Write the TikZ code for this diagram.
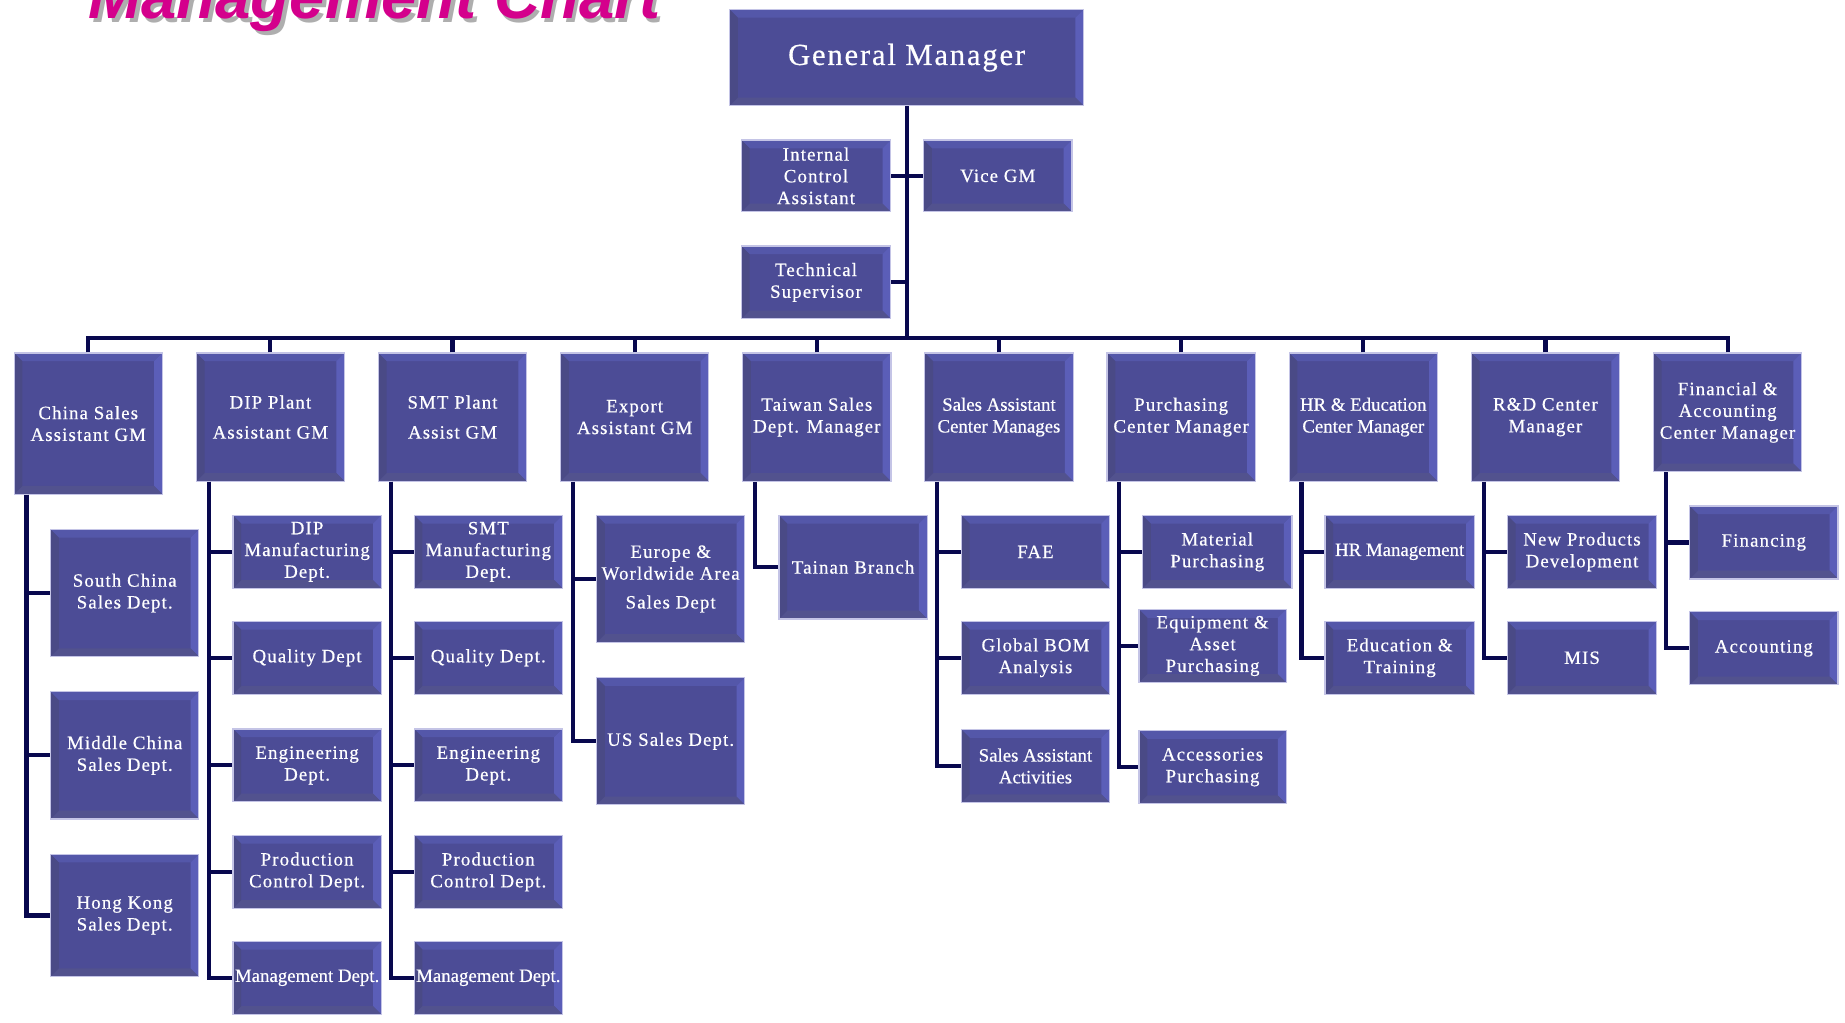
\documentclass[tikz,border=0pt]{standalone}
\usepackage{fontspec}
\setmainfont{Liberation Serif}[LetterSpace=6, FakeBold=0.5]
\newfontfamily\tightfont{Liberation Serif}[LetterSpace=0, FakeBold=0.5]
\newfontfamily\titlefont{Liberation Sans}
\definecolor{face}{HTML}{4C4C96}
\definecolor{bevtop}{HTML}{5457A9}
\definecolor{bevright}{HTML}{5B5EB8}
\definecolor{bevbot}{HTML}{52528E}
\definecolor{bevleft}{HTML}{4A4A86}
\definecolor{glow}{HTML}{C4C4E6}
\definecolor{linec}{HTML}{08084E}
\definecolor{titlemag}{HTML}{D4008C}
\tikzset{
  bx/.style={rectangle, fill=face, draw=glow, line width=1pt, text=white, align=center,
    inner sep=0pt, minimum width=126pt, minimum height=62pt,
    font=\fontsize{16}{18.5}\selectfont,
    path picture={
      \fill[bevtop] (path picture bounding box.north west) -- (path picture bounding box.north east)
        -- ([shift={(-7pt,-7pt)}]path picture bounding box.north east)
        -- ([shift={(7pt,-7pt)}]path picture bounding box.north west) -- cycle;
      \fill[bevright] (path picture bounding box.north east) -- (path picture bounding box.south east)
        -- ([shift={(-7pt,7pt)}]path picture bounding box.south east)
        -- ([shift={(-7pt,-7pt)}]path picture bounding box.north east) -- cycle;
      \fill[bevbot] (path picture bounding box.south east) -- (path picture bounding box.south west)
        -- ([shift={(7pt,7pt)}]path picture bounding box.south west)
        -- ([shift={(-7pt,7pt)}]path picture bounding box.south east) -- cycle;
      \fill[bevleft] (path picture bounding box.south west) -- (path picture bounding box.north west)
        -- ([shift={(7pt,-7pt)}]path picture bounding box.north west)
        -- ([shift={(7pt,7pt)}]path picture bounding box.south west) -- cycle;
    }},
  tight/.style={font=\tightfont\fontsize{16}{18.5}\selectfont},
  conn/.style={draw=linec, line width=3.5pt, line join=miter},
  kid/.style={conn},
}
\begin{document}
\begin{tikzpicture}[x=1pt,y=-1pt]
\useasboundingbox (0,0) rectangle (1568,869);
\fill[white] (0,0) rectangle (1568,869);
\begin{scope}
\clip (0,0) rectangle (1568,869);
\node[anchor=base west, inner sep=0pt, font=\titlefont\bfseries\itshape\fontsize{54}{54}\selectfont, text=black!45, opacity=0.7] (titleshadow) at (78,19) {Management Chart};
\node[anchor=base west, inner sep=0pt, font=\titlefont\bfseries\itshape\fontsize{54}{54}\selectfont, text=titlemag] (title) at (75,16) {Management Chart};
\end{scope}

% top
\node[bx, minimum width=301pt, minimum height=82pt, font=\fontsize{26}{30}\selectfont] (gm) at (770.5,49) {General Manager};
\node[bx, minimum width=127pt, minimum height=61pt] (ica) at (693.5,149.5) {Internal\\Control\\Assistant};
\node[bx, minimum width=126pt, minimum height=61pt] (vgm) at (848,149.5) {Vice GM};
\node[bx, minimum width=127pt, minimum height=62pt] (tech) at (693.5,240) {Technical\\Supervisor};

% level 2
\node[bx, minimum height=120pt] (l1) at (75,360) {China Sales\\Assistant GM};
\node[bx, minimum height=109pt] (l2) at (229.8,354.5) {DIP Plant\\[7pt]Assistant GM};
\node[bx, minimum height=109pt] (l3) at (384.6,354.5) {SMT Plant\\[7pt]Assist GM};
\node[bx, minimum height=109pt] (l4) at (539.4,354.5) {Export\\Assistant GM};
\node[bx, minimum height=109pt] (l5) at (694.2,354.5) {Taiwan Sales\\Dept. Manager};
\node[bx, minimum height=109pt, tight] (l6) at (849,354.5) {Sales Assistant\\Center Manages};
\node[bx, minimum height=109pt] (l7) at (1003.8,354.5) {Purchasing\\Center Manager};
\node[bx, minimum height=109pt, tight] (l8) at (1158.6,354.5) {HR \& Education\\Center Manager};
\node[bx, minimum height=109pt] (l9) at (1313.4,354.5) {R\&D Center\\Manager};
\node[bx, minimum height=101pt] (l10) at (1468.2,350.5) {Financial \&\\Accounting\\Center Manager};

% China sales children
\node[bx, minimum height=108pt] (c1) at (106,504) {South China\\Sales Dept.};
\node[bx, minimum height=108pt] (c2) at (106,642) {Middle China\\Sales Dept.};
\node[bx, minimum height=104pt] (c3) at (106,778) {Hong Kong\\Sales Dept.};

% DIP children
\node[bx] (d1) at (261,469) {DIP\\Manufacturing\\Dept.};
\node[bx] (d2) at (261,559) {Quality Dept};
\node[bx] (d3) at (261,650.5) {Engineering\\Dept.};
\node[bx] (d4) at (261,741) {Production\\Control Dept.};
\node[bx, tight] (d5) at (261,831) {Management Dept.};

% SMT children
\node[bx] (s1) at (415,469) {SMT\\Manufacturing\\Dept.};
\node[bx] (s2) at (415,559) {Quality Dept.};
\node[bx] (s3) at (415,650.5) {Engineering\\Dept.};
\node[bx] (s4) at (415,741) {Production\\Control Dept.};
\node[bx, tight] (s5) at (415,831) {Management Dept.};

% Export children
\node[bx, minimum height=108pt] (e1) at (570,492) {Europe \&\\Worldwide Area\\[6pt]Sales Dept};
\node[bx, minimum height=108pt] (e2) at (570,630) {US Sales Dept.};

% Taiwan
\node[bx, minimum height=88pt] (t1) at (725,482) {Tainan Branch};

% Sales assistant
\node[bx] (a1) at (880,469) {FAE};
\node[bx] (a2) at (880,559) {Global BOM\\Analysis};
\node[bx, tight] (a3) at (880,651) {Sales Assistant\\Activities};

% Purchasing
\node[bx, minimum width=127pt] (p1) at (1034.5,469) {Material\\Purchasing};
\node[bx, minimum width=125pt] (p2) at (1030.5,549) {Equipment \&\\Asset\\Purchasing};
\node[bx, minimum width=125pt] (p3) at (1030.5,652) {Accessories\\Purchasing};

% HR
\node[bx, minimum width=127pt, tight] (h1) at (1189.5,469) {HR Management};
\node[bx, minimum width=127pt] (h2) at (1189.5,559) {Education \&\\Training};

% R&D
\node[bx, minimum width=127pt] (r1) at (1344.5,469) {New Products\\Development};
\node[bx, minimum width=127pt] (r2) at (1344.5,559) {MIS};

% Financial
\node[bx] (f1) at (1499,461) {Financing};
\node[bx] (f2) at (1499,551) {Accounting};

% connectors top
\coordinate (bus) at (770.5,287);
\draw[conn] (gm.south) -- (bus);
\draw[conn] (ica.east) -- (vgm.west);
\draw[conn] (tech.east) -- (tech.east -| gm.south);
\draw[conn, line cap=rect] (l1.north |- bus) -- (l10.north |- bus);
\foreach \i in {1,...,10} { \draw[conn] (l\i.north) -- (l\i.north |- bus); }

% children connectors
\foreach \c in {c1,c2,c3} { \draw[kid] ([xshift=11pt]l1.south west) |- (\c.west); }
\foreach \c in {d1,d2,d3,d4,d5} { \draw[kid] ([xshift=11pt]l2.south west) |- (\c.west); }
\foreach \c in {s1,s2,s3,s4,s5} { \draw[kid] ([xshift=11pt]l3.south west) |- (\c.west); }
\foreach \c in {e1,e2} { \draw[kid] ([xshift=11pt]l4.south west) |- (\c.west); }
\foreach \c in {t1} { \draw[kid] ([xshift=11pt]l5.south west) |- (\c.west); }
\foreach \c in {a1,a2,a3} { \draw[kid] ([xshift=11pt]l6.south west) |- (\c.west); }
\foreach \c in {p1,p2,p3} { \draw[kid] ([xshift=11pt]l7.south west) |- (\c.west); }
\foreach \c in {h1,h2} { \draw[kid] ([xshift=11pt]l8.south west) |- (\c.west); }
\foreach \c in {r1,r2} { \draw[kid] ([xshift=11pt]l9.south west) |- (\c.west); }
\foreach \c in {f1,f2} { \draw[kid] ([xshift=11pt]l10.south west) |- (\c.west); }
\end{tikzpicture}
\end{document}
